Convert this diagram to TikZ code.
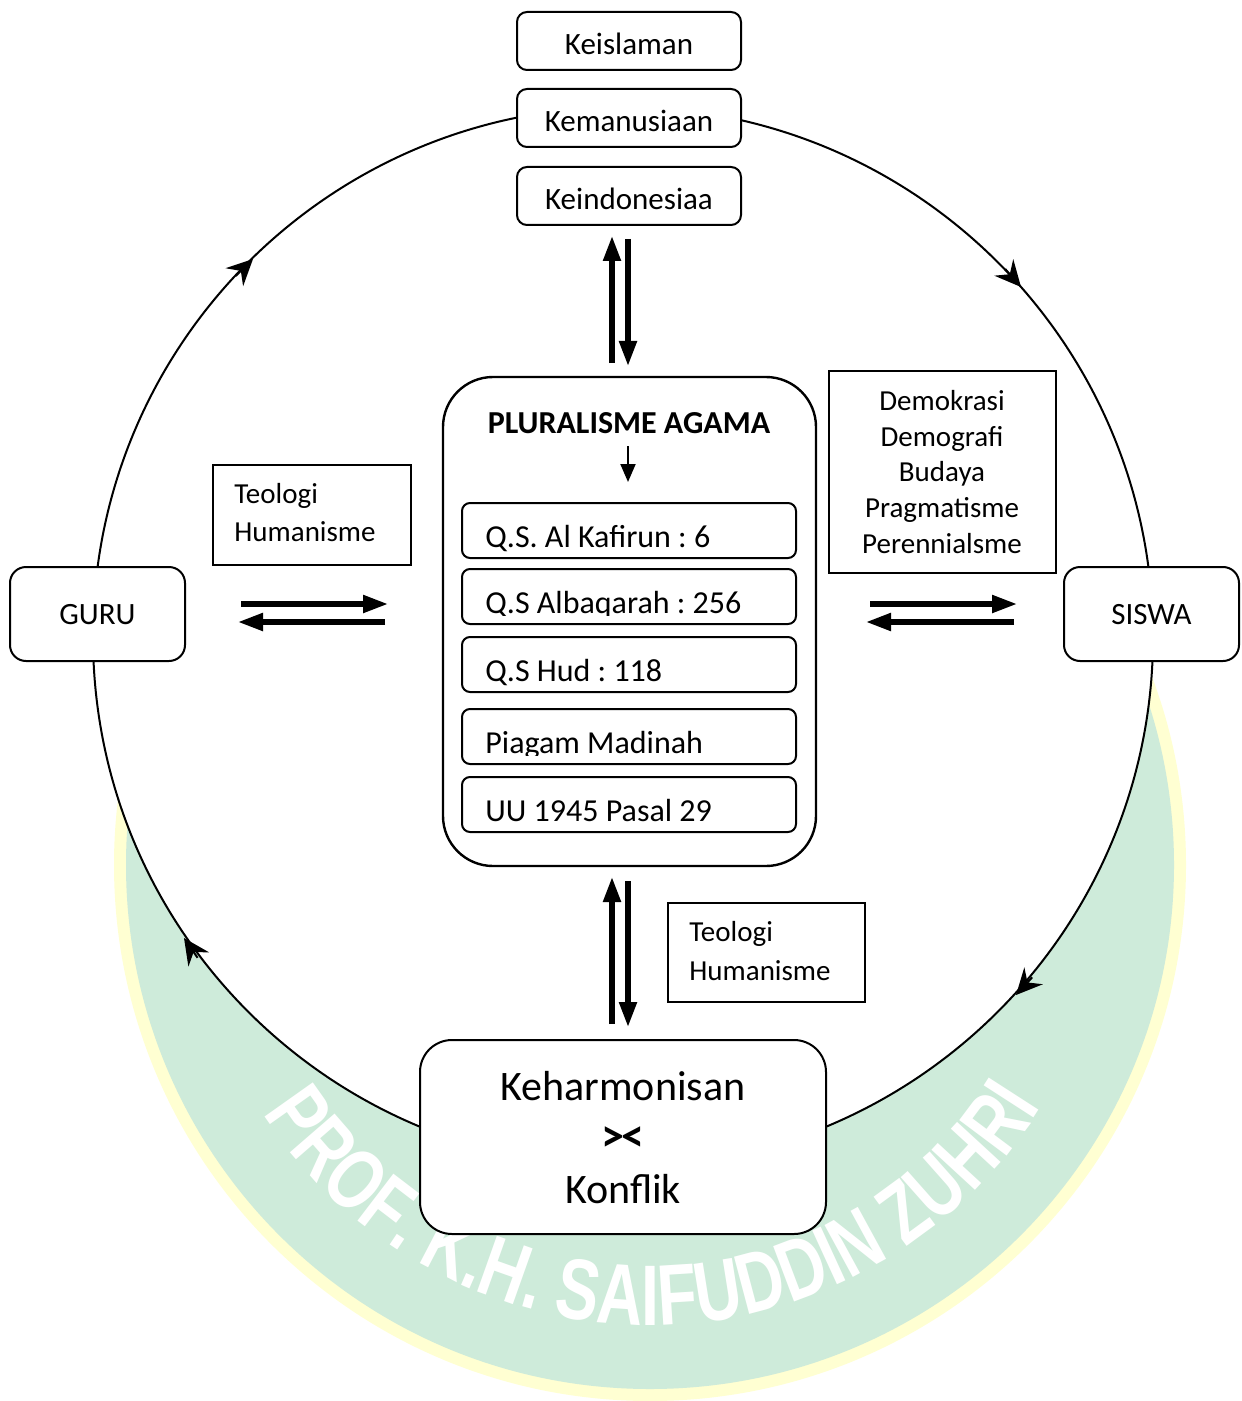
\documentclass[tikz,border=0pt]{standalone}
\usepackage{fontspec}
\setmainfont{Carlito}
\newfontfamily\wmfont[FakeStretch=0.75]{Liberation Sans}
\usetikzlibrary{arrows.meta,decorations.text}
\definecolor{wmgreen}{RGB}{206,235,218}
\definecolor{wmyellow}{RGB}{255,255,210}
\begin{document}
\frenchspacing
\begin{tikzpicture}[x=0.5pt,y=-0.5pt,
  rbox/.style={draw, line width=1pt, rounded corners=5pt, fill=white, inner sep=0pt},
  sbox/.style={draw, line width=1pt, fill=white, inner sep=0pt},
  fat/.style={line width=2.6pt, -{Triangle[length=12.5pt,width=8.5pt]}},
  circarrow/.style={line width=1pt, -{Stealth[length=13pt,width=12.5pt,inset=4.5pt]}},
  lbl/.style={font=\fontsize{15.5}{18.6}\selectfont, inner sep=0pt},
  itm/.style={font=\fontsize{16}{19}\selectfont, inner sep=0pt, anchor=base west},
  sm/.style={font=\fontsize{14.5}{17}\selectfont, inner sep=0pt},
  big/.style={font=\fontsize{21}{25}\selectfont, inner sep=0pt, anchor=base},
  bl/.style={text height=#1, text depth=0pt}
]
\useasboundingbox (0,0) rectangle (1241,1401);
\fill[white] (0,0) rectangle (1241,1401);

% watermark
\fill[wmyellow] (650,865) circle[radius=268pt];
\fill[wmgreen] (650,865) circle[radius=262pt];
\path[decorate, decoration={text along path, text align=center, text color=white,
  text={|\wmfont\bfseries\fontsize{43}{43}\selectfont|PROF. K.H. SAIFUDDIN ZUHRI}}]
  (650,865) ++(152:460) arc[start angle=152, end angle=27, radius=460];

% main cycle
\node[draw, circle, minimum size=530pt, fill=white, line width=1pt, inner sep=0pt] (cyc) at (623,637) {};

\coordinate (c1s) at (235.8,275.8); \coordinate (c1e) at (253,259);
\coordinate (c2s) at (1005.2,269);  \coordinate (c2e) at (1021,287);
\coordinate (c3s) at (1032.2,977.3);\coordinate (c3e) at (1016,995);
\coordinate (c4s) at (197.6,957.8); \coordinate (c4e) at (184,938);
\draw[circarrow] (c1s) -- (c1e);
\draw[circarrow] (c2s) -- (c2e);
\draw[circarrow] (c3s) -- (c3e);
\draw[circarrow] (c4s) -- (c4e);

% top boxes
\node[rbox, minimum width=112pt, minimum height=29pt, lbl, bl=14pt] (keis) at (629,41) {Keislaman};
\node[rbox, minimum width=112pt, minimum height=29pt, lbl, bl=14pt] (kema) at (629,118) {Kemanusiaan};
\node[rbox, minimum width=112pt, minimum height=29pt, lbl, bl=14pt] (kein) at (629,196) {Keindonesiaa};

% central box
\node[rbox, rounded corners=25pt, line width=1.2pt, minimum width=186.5pt, minimum height=244.5pt] (plural) at (629.5,621.5) {};
\node[font=\bfseries\fontsize{16}{19}\selectfont, anchor=base, inner sep=0pt] (ptitle) at (629,433) {PLURALISME AGAMA};
\coordinate (sa1) at (628,446); \coordinate (sa2) at (628,482);
\draw[line width=1pt, -{Triangle[length=9pt,width=7.5pt]}] (sa1) -- (sa2);

\node[rbox, rounded corners=4pt, minimum width=167pt, minimum height=27.5pt] (q1) at (629,530.5) {};
\node[rbox, rounded corners=4pt, minimum width=167pt, minimum height=27.5pt] (q2) at (629,596.5) {};
\node[rbox, rounded corners=4pt, minimum width=167pt, minimum height=27.5pt] (q3) at (629,664.5) {};
\node[rbox, rounded corners=4pt, minimum width=167pt, minimum height=27.5pt] (q4) at (629,736.5) {};
\node[rbox, rounded corners=4pt, minimum width=167pt, minimum height=27.5pt] (q5) at (629,804.5) {};
\node[itm] (t1) at (485,547) {Q.S. Al Kafirun : 6};
\begin{scope}
\clip (462,560) rectangle (796,615);
\node[itm] (t2) at (485,613) {Q.S Albaqarah : 256};
\end{scope}
\node[itm] (t3) at (485,681) {Q.S Hud : 118};
\begin{scope}
\clip (462,700) rectangle (796,755);
\node[itm] (t4) at (485,753) {Piagam Madinah};
\end{scope}
\node[itm] (t5) at (485,821) {UU 1945 Pasal 29};

% side boxes
\node[rbox, rounded corners=8pt, minimum width=87.5pt, minimum height=47pt, lbl, bl=10pt] (guru) at (97.5,614) {GURU};
\node[rbox, rounded corners=8pt, minimum width=87.5pt, minimum height=47pt, lbl, bl=10pt] (siswa) at (1151.5,614) {SISWA};

\node[sbox, minimum width=99pt, minimum height=50pt] (teo1) at (312,515) {};
\node[sm, anchor=base west] (teo1a) at (234,503) {Teologi};
\node[sm, anchor=base west] (teo1b) at (234,541) {Humanisme};

\node[sbox, minimum width=113.5pt, minimum height=101pt] (demo) at (942.5,472) {};
\node[sm, anchor=base] (d1) at (942,410) {Demokrasi};
\node[sm, anchor=base] (d2) at (942,446) {Demografi};
\node[sm, anchor=base] (d3) at (942,481) {Budaya};
\node[sm, anchor=base] (d4) at (942,517) {Pragmatisme};
\node[sm, anchor=base] (d5) at (942,553) {Perennialsme};

\node[sbox, minimum width=98.5pt, minimum height=49.5pt] (teo2) at (766.5,952.5) {};
\node[sm, anchor=base west] (teo2a) at (689,941) {Teologi};
\node[sm, anchor=base west] (teo2b) at (689,980) {Humanisme};

% bottom box
\node[rbox, rounded corners=16pt, minimum width=203pt, minimum height=97pt] (harm) at (623,1137) {};
\node[big] (h1) at (623,1100) {Keharmonisan};
\node[font=\bfseries\fontsize{23}{25}\selectfont, inner sep=0pt] (h2) at (623,1139) {>\kern-1.5pt<};
\node[big] (h3) at (623,1203) {Konflik};

% thick arrows
\coordinate (ua1) at (612,363); \coordinate (ua2) at (612,236);
\coordinate (da1) at (628,239); \coordinate (da2) at (628,366);
\coordinate (ub1) at (612,1024); \coordinate (ub2) at (612,877);
\coordinate (db1) at (628,881); \coordinate (db2) at (628,1027);
\coordinate (lr1) at (241,604); \coordinate (lr2) at (388,604);
\coordinate (ll1) at (385,622); \coordinate (ll2) at (238,622);
\coordinate (rr1) at (870,604); \coordinate (rr2) at (1017,604);
\coordinate (rl1) at (1014,622); \coordinate (rl2) at (866,622);
\draw[fat] (ua1) -- (ua2);
\draw[fat] (da1) -- (da2);
\draw[fat] (ub1) -- (ub2);
\draw[fat] (db1) -- (db2);
\draw[fat] (lr1) -- (lr2);
\draw[fat] (ll1) -- (ll2);
\draw[fat] (rr1) -- (rr2);
\draw[fat] (rl1) -- (rl2);
\end{tikzpicture}
\end{document}
